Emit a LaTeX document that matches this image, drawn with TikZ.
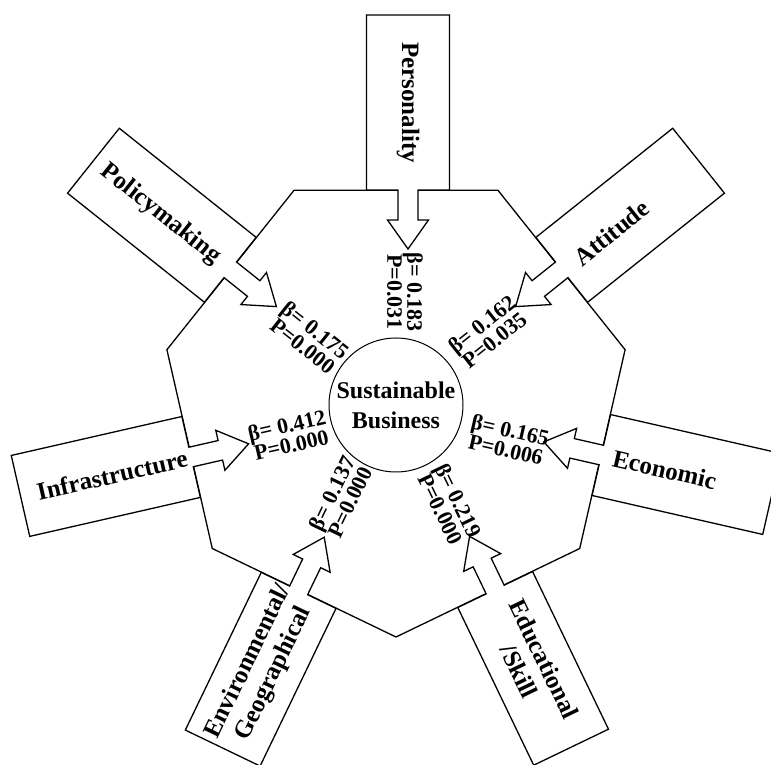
\documentclass[tikz,border=0pt]{standalone}
\usepackage{fontspec}
\setmainfont{Liberation Serif}
\usepackage{tikz}

\begin{document}
\begin{tikzpicture}[x=1pt, y=1pt, line width=1.3pt, arm/.style={draw, fill=white, line join=miter}, tag/.style={font=\fontsize{25}{28}\selectfont\bfseries, align=center, inner sep=0pt}, stat/.style={font=\fontsize{22}{20}\selectfont\bfseries, align=center, inner sep=0pt}, core/.style={circle, draw, fill=white, line width=1pt, minimum size=134pt, inner sep=0pt, align=center, font=\fontsize{24}{30}\selectfont\bfseries}, callout/.pic={\draw[arm] (-41.5,212) -- (-41.5,387) -- (41.5,387) -- (41.5,212) -- (10,212) -- (10,182) -- (20.5,182) -- (0,153) -- (-20.5,182) -- (-10,182) -- (-10,212) -- cycle;}]
		\useasboundingbox (0,0) rectangle (771,765);
		\clip (0,0) rectangle (771,765);
		\begin{scope}[shift={(396,363)}]
		\draw[arm] (115.71:235) -- (64.29:235) -- (12.86:235) -- (-38.57:235) -- (-90:235) -- (-141.43:235) -- (167.14:235) -- cycle;
		\end{scope}
		\begin{scope}[shift={(396,363)}, rotate=0]
		\pic[transform shape] at (12,0) {callout};
		\node[tag, rotate=-90] (per) at (12,299.5) {Personality};
		\node[stat, rotate=-90] (perS) at (9,110) {β= 0.183\\P=0.031};
		\end{scope}
		\begin{scope}[shift={(396,363)}, rotate=-51.43]
		\pic[transform shape] at (0,0) {callout};
		\node[tag, rotate=38.57] (att) at (2,274) {Attitude};
		\node[stat, rotate=38.57] (attS) at (2.6,115.6) {β= 0.162\\P=0.035};
		\end{scope}
		\begin{scope}[shift={(396,363)}, rotate=-102.86]
		\pic[transform shape] at (6,0) {callout};
		\node[tag, rotate=-12.86] (eco) at (6,277) {Economic};
		\node[stat, rotate=-12.86] (ecoS) at (12,117.7) {β= 0.165\\P=0.006};
		\end{scope}
		\begin{scope}[shift={(396,363)}, rotate=-154.29]
		\pic[transform shape] at (-8,0) {callout};
		\node[tag, rotate=-64.29] (edu) at (-8,296) {Educational\\/Skill};
		\node[stat, rotate=-64.29] (eduS) at (-4,116) {β= 0.219\\P=0.000};
		\end{scope}
		\begin{scope}[shift={(396,363)}, rotate=154.29]
		\pic[transform shape] at (6,0) {callout};
		\node[tag, rotate=64.29] (env) at (6,298) {Environmental/\\Geographical};
		\node[stat, rotate=64.29] (envS) at (8,110) {β= 0.137\\P=0.000};
		\end{scope}
		\begin{scope}[shift={(396,363)}, rotate=102.86]
		\pic[transform shape] at (-8,0) {callout};
		\node[tag, rotate=12.86] (inf) at (-8,293) {Infrastructure};
		\node[stat, rotate=12.86] (infS) at (-8.4,111.6) {β= 0.412\\P=0.000};
		\end{scope}
		\begin{scope}[shift={(396,363)}, rotate=51.43]
		\pic[transform shape] at (0,0) {callout};
		\node[tag, rotate=-38.57] (pol) at (0,301) {Policymaking};
		\node[stat, rotate=-38.57] (polS) at (-4,108) {β= 0.175\\P=0.000};
		\end{scope}
		\node[core] (sb) at (396,360) {Sustainable\\Business};
\end{tikzpicture}
\end{document}
